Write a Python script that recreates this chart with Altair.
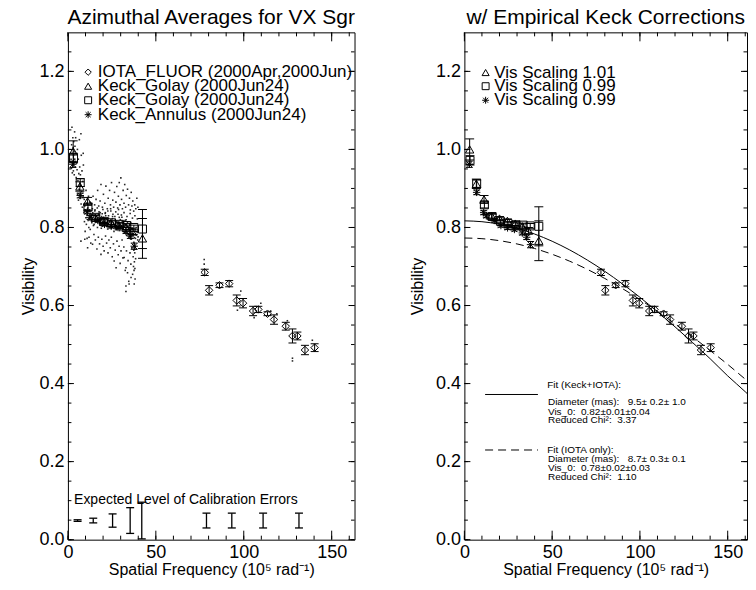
import altair as alt
import pandas as pd

# ---------------- data ----------------
iota_x = [77.8, 80.3, 86.2, 91.7, 96.0, 99.6, 105.3, 108.3, 113.5, 117.2, 123.9, 127.7, 130.5, 134.8, 140.3]
iota_y = [0.685, 0.639, 0.652, 0.656, 0.613, 0.606, 0.586, 0.590, 0.579, 0.564, 0.547, 0.522, 0.522, 0.486, 0.492]
iota_err = [0.008, 0.012, 0.006, 0.008, 0.014, 0.012, 0.012, 0.008, 0.005, 0.012, 0.010, 0.018, 0.010, 0.012, 0.010]

golay1_x = [3.0, 6.8, 11.2, 15.5, 20.0, 24.5, 29.0, 33.0, 36.5, 42.4]
golay1_y = [0.995, 0.905, 0.867, 0.825, 0.818, 0.812, 0.806, 0.800, 0.790, 0.772]
golay1_err = [0.027, 0.012, 0.010, 0.006, 0.005, 0.005, 0.005, 0.006, 0.008, 0.051]
golay1_corr_y = [1.000, 0.912, 0.872, 0.830, 0.823, 0.817, 0.810, 0.803, 0.792, 0.766]

golay2_x = [3.2, 7.0, 11.4, 15.8, 20.5, 24.8, 29.4, 33.5, 37.5, 42.4]
golay2_y = [0.978, 0.915, 0.852, 0.826, 0.815, 0.812, 0.808, 0.805, 0.800, 0.796]
golay2_err = [0.012, 0.010, 0.008, 0.006, 0.005, 0.005, 0.005, 0.005, 0.006, 0.050]
golay2_corr_y = [0.972, 0.912, 0.858, 0.828, 0.816, 0.810, 0.807, 0.806, 0.804, 0.803]

annulus_x = [2.8, 7.0, 11.0, 12.5, 17.0, 20.8, 24.6, 28.5, 33.0, 35.5, 37.7]
annulus_y = [0.962, 0.882, 0.840, 0.826, 0.818, 0.808, 0.803, 0.800, 0.790, 0.778, 0.752]
annulus_err = [0.008, 0.006, 0.005, 0.005, 0.004, 0.004, 0.004, 0.004, 0.005, 0.006, 0.008]
annulus_corr_y = [0.962, 0.890, 0.838, 0.830, 0.818, 0.805, 0.799, 0.795, 0.786, 0.775, 0.756]

# individual Keck measurements (small dots)
cloud_x = [
    1.8, 2.0, 2.1, 2.3, 2.4, 2.5, 2.6, 2.8, 2.9, 3.0, 3.1, 3.2, 3.3, 3.4, 3.5, 3.6, 3.8, 3.9, 4.0, 4.2, 4.3, 4.4,
    4.7, 4.9, 5.0, 5.2, 5.4, 5.5, 5.7, 5.9, 6.0, 6.2, 6.4, 6.5, 6.7, 6.9, 7.1, 7.3, 7.4, 7.5, 7.6, 7.8, 8.0, 8.2,
    8.4, 8.6, 8.7, 8.8,
    9.1, 9.3, 9.4, 9.6, 9.8, 10.0, 10.2, 10.3, 10.5, 10.7, 10.9, 11.0, 11.2, 11.3, 11.5, 11.7, 11.9, 12.1, 12.3,
    12.5, 12.7, 12.9,
    13.2, 13.6, 14.1, 14.5, 15.0, 15.4, 15.9, 16.3, 16.8, 17.2, 17.7, 18.1, 18.6, 19.0, 19.5, 19.9, 20.4, 20.8,
    21.3, 21.7, 22.2, 22.6, 23.1, 23.5, 24.0, 24.4, 24.9, 25.3, 25.8, 26.2, 26.7, 27.1, 27.6, 28.0, 28.5, 28.9,
    29.4, 29.8, 30.3, 30.7, 31.2, 31.6, 32.1, 32.5, 33.0, 33.4, 33.9, 34.3, 34.8, 35.2, 35.7, 36.1, 36.6, 37.0,
    37.5, 37.9, 38.4, 38.8, 39.3, 39.7,
    13.5, 14.3, 15.2, 16.0, 16.9, 17.5, 18.3, 18.8, 19.6, 20.2, 21.0, 21.6, 22.4, 22.9, 23.7, 24.2, 24.8, 25.5,
    26.0, 26.5, 27.3, 27.8, 28.3, 28.7, 29.2, 29.6, 30.1, 30.5, 31.0, 31.4, 31.9, 32.3, 32.8, 33.2, 33.9, 34.5,
    35.0, 35.5, 36.0, 36.4, 36.9, 37.4, 38.0, 38.6, 39.2, 39.8,
    12.0, 13.0, 14.0, 14.8, 15.6, 16.5, 17.3, 18.0, 18.8, 19.3, 20.0, 20.6, 21.4, 22.0, 22.8, 23.3, 24.1, 24.7,
    25.2, 25.9, 26.3, 26.9, 27.4, 27.9, 28.6, 29.1, 29.7, 30.2, 30.8, 31.3, 31.8, 32.0, 32.6, 33.0, 33.3, 33.9,
    34.2, 34.8, 35.3, 35.8, 35.9, 36.3, 36.8, 37.1, 37.3, 37.5, 37.6, 37.7, 37.8, 38.0, 38.1, 38.2, 38.3, 38.5,
    38.7, 33.0, 33.0, 34.6, 7.4, 9.6,
    13.4, 14.2, 14.9, 15.7, 16.6, 17.4, 18.2, 19.1, 19.8, 20.7, 21.5, 22.3, 23.0, 23.8, 24.6, 25.4, 26.1, 26.9,
    27.7, 28.4, 29.2, 30.0, 30.9, 31.7, 32.4, 33.1, 33.7, 34.4, 35.1, 35.6, 36.2, 36.8, 37.3, 37.8, 38.3, 38.9,
    39.4, 39.9,
    13.9, 15.3, 16.7, 18.4, 19.9, 21.2, 22.7, 24.3, 25.6, 27.2, 28.8, 30.4, 31.9, 33.6, 35.4, 36.7, 38.1, 39.5,
]
cloud_y = [
    0.975, 0.952, 1.012, 1.057, 0.990, 0.940, 0.968, 1.030, 0.958, 1.005, 0.945, 0.985, 1.020, 0.963, 0.995,
    0.935, 1.045, 0.975, 1.008, 0.955, 0.990, 1.030,
    0.928, 0.965, 0.905, 0.948, 1.000, 0.885, 0.920, 0.975, 0.870, 0.938, 0.898, 1.025, 0.955, 0.875, 0.935,
    0.908, 1.040, 0.860, 0.985, 0.892, 0.945, 0.852, 0.918, 0.880, 0.990, 0.960,
    0.838, 0.872, 0.815, 0.855, 0.790, 0.845, 0.825, 0.895, 0.808, 0.862, 0.772, 0.832, 0.748, 0.850, 0.818,
    0.880, 0.800, 0.842, 0.822, 0.865, 0.795, 0.835,
    0.828, 0.812, 0.838, 0.805, 0.822, 0.845, 0.815, 0.830, 0.800, 0.826, 0.840, 0.810, 0.822, 0.798, 0.835,
    0.815, 0.826, 0.804, 0.838, 0.812, 0.822, 0.796, 0.830, 0.808, 0.818, 0.842, 0.800, 0.822, 0.812, 0.790,
    0.828, 0.806, 0.816, 0.798, 0.834, 0.810, 0.792, 0.820, 0.804, 0.826, 0.796, 0.812, 0.786, 0.818, 0.800,
    0.780, 0.812, 0.794, 0.776, 0.806, 0.788, 0.770, 0.798, 0.780, 0.762, 0.790, 0.772, 0.800, 0.782, 0.768,
    0.862, 0.880, 0.858, 0.872, 0.895, 0.855, 0.868, 0.910, 0.852, 0.885, 0.862, 0.906, 0.848, 0.875, 0.895,
    0.858, 0.915, 0.870, 0.852, 0.890, 0.865, 0.905, 0.850, 0.880, 0.915, 0.858, 0.927, 0.872, 0.848, 0.895,
    0.862, 0.910, 0.852, 0.882, 0.898, 0.858, 0.875, 0.845, 0.890, 0.855, 0.868, 0.842, 0.858, 0.848, 0.875,
    0.852,
    0.775, 0.760, 0.757, 0.782, 0.768, 0.745, 0.775, 0.758, 0.731, 0.770, 0.752, 0.740, 0.778, 0.760, 0.735,
    0.768, 0.748, 0.775, 0.725, 0.758, 0.714, 0.742, 0.697, 0.765, 0.730, 0.752, 0.708, 0.740, 0.768, 0.722,
    0.750, 0.723, 0.690, 0.697, 0.740, 0.684, 0.715, 0.655, 0.735, 0.706, 0.672, 0.748, 0.680, 0.725, 0.700,
    0.742, 0.690, 0.655, 0.712, 0.735, 0.695, 0.668, 0.752, 0.720, 0.745, 0.650, 0.636, 0.662, 0.765, 0.770,
    0.818, 0.832, 0.808, 0.826, 0.814, 0.834, 0.806, 0.828, 0.812, 0.820, 0.830, 0.802, 0.824, 0.814, 0.798,
    0.828, 0.808, 0.820, 0.794, 0.814, 0.826, 0.800, 0.816, 0.790, 0.808, 0.820, 0.786, 0.802, 0.792, 0.812,
    0.778, 0.796, 0.785, 0.774, 0.794, 0.780, 0.788, 0.776,
    0.848, 0.842, 0.850, 0.838, 0.846, 0.836, 0.842, 0.848, 0.834, 0.840, 0.846, 0.832, 0.838, 0.828, 0.836,
    0.824, 0.830, 0.822,
]
iota_dots_x = [77.5, 77.5, 98.3, 96.4, 109.7, 105.9, 115.3, 118.8, 124.8, 127.7, 127.7, 139.0]
iota_dots_y = [0.718, 0.706, 0.637, 0.588, 0.606, 0.569, 0.586, 0.579, 0.561, 0.465, 0.458, 0.511]

# expected calibration error bars
cal_x = [5.5, 14.4, 25.4, 35.4, 42.0, 78.8, 93.2, 111.0, 131.4]
cal_y = [0.049, 0.049, 0.049, 0.049, 0.049, 0.049, 0.049, 0.049, 0.049]
cal_err = [0.002, 0.006, 0.017, 0.033, 0.047, 0.019, 0.019, 0.019, 0.019]

# fitted uniform-disk curves (right panel)
fit_x = [0, 10, 20, 30, 40, 50, 60, 70, 80, 90, 100, 110, 120, 130, 140, 150, 160, 162.5]
fit_keck_iota = [0.817, 0.8148, 0.8084, 0.7979, 0.7832, 0.7647, 0.7424, 0.7166, 0.6876, 0.6556, 0.6210,
                 0.5841, 0.5454, 0.5051, 0.4637, 0.4197, 0.3791, 0.3684]
fit_iota_only = [0.773, 0.7713, 0.7662, 0.7578, 0.7461, 0.7313, 0.7135, 0.6928, 0.6693, 0.6435, 0.6153,
                 0.5851, 0.5531, 0.5196, 0.4848, 0.4491, 0.4113, 0.4019]

legend_left = ["IOTA_FLUOR (2000Apr,2000Jun)", "Keck_Golay (2000Jun24)", "Keck_Golay (2000Jun24)",
               "Keck_Annulus (2000Jun24)"]
legend_right = ["Vis Scaling 1.01", "Vis Scaling 0.99", "Vis Scaling 0.99"]
NB = "\u00a0"
fit1_text = ["Fit (Keck+IOTA):", NB + "Diameter (mas):" + NB * 3 + "9.5± 0.2± 1.0",
             NB + "Vis_0:" + NB * 2 + "0.82±0.01±0.04", NB + "Reduced Chi²:" + NB * 2 + "3.37"]
fit2_text = ["Fit (IOTA only):", NB + "Diameter (mas):" + NB * 3 + "8.7± 0.3± 0.1",
             NB + "Vis_0:" + NB * 2 + "0.78±0.02±0.03", NB + "Reduced Chi²:" + NB * 2 + "1.10"]

x_label_values = [0, 50, 100, 150]
y_label_values = [0.0, 0.2, 0.4, 0.6, 0.8, 1.0, 1.2]
x_minor_ticks = [0, 10, 20, 30, 40, 50, 60, 70, 80, 90, 100, 110, 120, 130, 140, 150, 160]
x_major_ticks = [0, 50, 100, 150]
y_minor_ticks = [0.0, 0.05, 0.1, 0.15, 0.2, 0.25, 0.3, 0.35, 0.4, 0.45, 0.5, 0.55, 0.6, 0.65, 0.7, 0.75,
                 0.8, 0.85, 0.9, 0.95, 1.0, 1.05, 1.1, 1.15, 1.2, 1.25]
y_major_ticks = [0.0, 0.2, 0.4, 0.6, 0.8, 1.0, 1.2]

n = min(len(cloud_x), len(cloud_y))
cloud_x, cloud_y = cloud_x[:n], cloud_y[:n]

# ---------------- chart ----------------
H = 508
FONT = "Liberation Sans"
ys = alt.Scale(domain=[0, 1.3], nice=False, zero=False)
ASTERISK = "M0,-1L0,1M-1,0L1,0M-0.72,-0.72L0.72,0.72M-0.72,0.72L0.72,-0.72"


class Panel:
    def __init__(self, width, xmax, title_pad):
        self.W = width
        self.xmax = xmax
        self.xs = alt.Scale(domain=[0, xmax], nice=False, zero=False)
        self.xa = alt.Axis(values=x_label_values, title="Spatial Frequency (10⁵ rad⁻¹)",
                           labelPadding=4, titlePadding=0, labelFontSize=18, titleFontSize=16)
        self.ya = alt.Axis(values=y_label_values, format=".1f", title="Visibility",
                           labelPadding=4, titlePadding=title_pad, labelFontSize=18, titleFontSize=16)
        self.layers = []

    def X(self, f):
        return alt.X(f, type="quantitative", scale=self.xs, axis=self.xa)

    def Y(self, f):
        return alt.Y(f, type="quantitative", scale=ys, axis=self.ya)

    def add(self, c):
        self.layers.append(c)

    def ticks(self):
        W = self.W
        xmin = [v for v in x_minor_ticks if v <= self.xmax]
        for vals, ln in ((xmin, 4), (x_major_ticks, 9)):
            d = pd.DataFrame({"v": vals})
            self.add(alt.Chart(d).mark_rule(color="black", strokeWidth=1).encode(
                x=self.X("v"), y=alt.value(H), y2=alt.value(H - ln)))
            self.add(alt.Chart(d).mark_rule(color="black", strokeWidth=1).encode(
                x=self.X("v"), y=alt.value(0), y2=alt.value(ln)))
        for vals, ln in ((y_minor_ticks, 3.5), (y_major_ticks, 6)):
            d = pd.DataFrame({"v": vals})
            self.add(alt.Chart(d).mark_rule(color="black", strokeWidth=1).encode(
                y=self.Y("v"), x=alt.value(0), x2=alt.value(ln)))
            self.add(alt.Chart(d).mark_rule(color="black", strokeWidth=1).encode(
                y=self.Y("v"), x=alt.value(W), x2=alt.value(W - ln)))

    def errbars(self, x, y, e, cap=8, sw=1):
        d = pd.DataFrame({"x": x, "y": y, "e": e})
        base = alt.Chart(d).transform_calculate(lo="datum.y - datum.e", hi="datum.y + datum.e")
        self.add(base.mark_rule(color="black", strokeWidth=sw).encode(
            x=self.X("x"), y=self.Y("lo"), y2=alt.Y2("hi")))
        for f in ("lo", "hi"):
            self.add(base.mark_tick(orient="horizontal", size=cap, thickness=sw, color="black",
                                    opacity=1).encode(x=self.X("x"), y=self.Y(f)))

    def markers(self, x, y, shape, size=64):
        d = pd.DataFrame({"x": x, "y": y})
        self.add(alt.Chart(d).mark_point(shape=shape, size=size, filled=False, color="black",
                                         strokeWidth=1, opacity=1).encode(x=self.X("x"), y=self.Y("y")))

    def texts(self, x, y, t, size):
        d = pd.DataFrame({"x": x, "y": y, "t": t})
        self.add(alt.Chart(d).mark_text(align="left", baseline="middle", font=FONT, fontSize=size,
                                        color="black").encode(x=self.X("x"), y=self.Y("y"), text="t:N"))

    def dots(self, x, y, size=2.5):
        d = pd.DataFrame({"x": x, "y": y})
        self.add(alt.Chart(d).mark_square(size=size, color="black", opacity=0.85).encode(
            x=self.X("x"), y=self.Y("y")))

    def line(self, x, y, dash=None):
        kw = {"strokeDash": dash} if dash else {}
        d = pd.DataFrame({"x": x, "y": y})
        self.add(alt.Chart(d).mark_line(color="black", strokeWidth=1, interpolate="monotone", clip=True,
                                        **kw).encode(x=self.X("x"), y=self.Y("y")))

    def hseg(self, x1, x2, y, dash=None):
        kw = {"strokeDash": dash} if dash else {}
        d = pd.DataFrame({"x": [x1], "x2": [x2], "y": [y]})
        self.add(alt.Chart(d).mark_rule(color="black", strokeWidth=1, **kw).encode(
            x=self.X("x"), x2="x2:Q", y=self.Y("y")))

    def chart(self, title):
        return alt.layer(*self.layers).properties(
            width=self.W, height=H,
            title=alt.TitleParams(title, font=FONT, fontSize=21, fontWeight="normal",
                                  anchor="middle", offset=4, color="black"),
        )


# ----- left panel -----
P = Panel(287, 163, 2)
P.ticks()
P.dots(cloud_x, cloud_y)
P.dots(iota_dots_x, iota_dots_y)
P.errbars(iota_x, iota_y, iota_err)
P.markers(iota_x, iota_y, "diamond", 56)
P.errbars(golay1_x, golay1_y, golay1_err, cap=9)
P.markers(golay1_x, golay1_y, "triangle-up", 70)
P.errbars(golay2_x, golay2_y, golay2_err, cap=9)
P.markers(golay2_x, golay2_y, "square", 64)
P.errbars(annulus_x, annulus_y, annulus_err, cap=7)
P.markers(annulus_x, annulus_y, ASTERISK, 56)
P.errbars(cal_x, cal_y, cal_err, cap=8, sw=1.3)
P.texts([3.5], [0.102], ["Expected Level of Calibration Errors"], 14)
leg_y = [1.198, 1.162, 1.126, 1.089]
P.markers([11.5], [leg_y[0]], "diamond", 40)
P.markers([11.5], [leg_y[1]], "triangle-up", 50)
P.markers([11.5], [leg_y[2]], "square", 48)
P.markers([11.5], [leg_y[3]], ASTERISK, 48)
P.texts([17.0] * 4, leg_y, legend_left, 17)
left = P.chart("Azimuthal Averages for VX Sgr")

# ----- right panel -----
Q = Panel(283, 161, 10)
Q.ticks()
Q.line(fit_x, fit_keck_iota)
Q.line(fit_x, fit_iota_only, dash=[8, 5])
Q.errbars(iota_x, iota_y, iota_err)
Q.markers(iota_x, iota_y, "diamond", 56)
Q.errbars(golay1_x, golay1_corr_y, golay1_err, cap=9)
Q.markers(golay1_x, golay1_corr_y, "triangle-up", 70)
Q.errbars(golay2_x, golay2_corr_y, golay2_err, cap=9)
Q.markers(golay2_x, golay2_corr_y, "square", 64)
Q.errbars(annulus_x, annulus_corr_y, annulus_err, cap=7)
Q.markers(annulus_x, annulus_corr_y, ASTERISK, 56)
leg_yr = [1.197, 1.162, 1.126]
Q.markers([12.1], [leg_yr[0]], "triangle-up", 50)
Q.markers([12.1], [leg_yr[1]], "square", 48)
Q.markers([12.1], [leg_yr[2]], ASTERISK, 48)
Q.texts([17.0] * 3, leg_yr, legend_right, 17)
Q.hseg(11.8, 41.9, 0.372)
Q.hseg(11.8, 41.9, 0.2298, dash=[8, 5])
Q.texts([47.2, 47.6, 47.6, 47.6], [0.397, 0.3515, 0.328, 0.306], fit1_text, 10)
Q.texts([47.2, 47.6, 47.6, 47.6], [0.2298, 0.206, 0.1846, 0.1616], fit2_text, 10)
right = Q.chart("w/ Empirical Keck Corrections")

chart = alt.hconcat(left, right, spacing=52).properties(
    padding={"left": 12, "top": -2, "right": 0, "bottom": 0}
).configure_view(stroke="black", strokeWidth=1).configure_axis(
    labelFont=FONT, titleFont=FONT, titleFontWeight="normal",
    labelColor="black", titleColor="black", ticks=False, domain=False, grid=False,
    labelFlush=False, labelOverlap=False,
)

chart.save("out.html", embed_options={"renderer": "svg", "actions": False})
